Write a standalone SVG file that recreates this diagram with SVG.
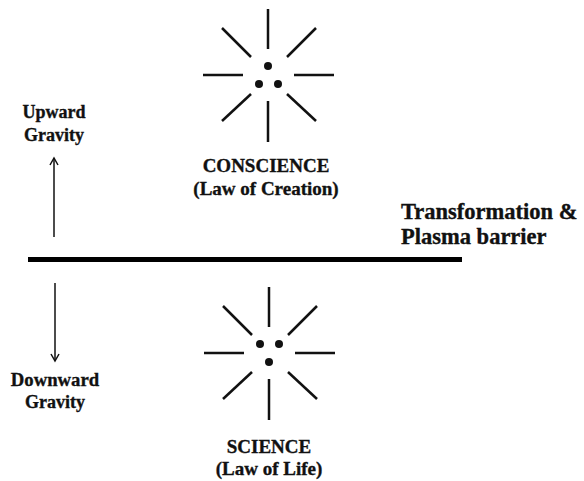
<svg xmlns="http://www.w3.org/2000/svg" width="584" height="481" viewBox="0 0 584 481">
<style>
text{font-family:"Liberation Serif","Times New Roman",serif;font-weight:bold;fill:#111;stroke:#111;stroke-width:0.35;}
.lbl{font-size:19px;text-anchor:middle;}
.g{font-size:18px;text-anchor:middle;}
.t{font-size:22.5px;}
.ray{stroke:#111;stroke-width:2.5;stroke-linecap:butt;}
.dot{fill:#111;}
.arr{stroke:#111;stroke-width:1.5;fill:none;}
</style>
<defs>
<g id="rays">
<line class="ray" x1="0" y1="-66" x2="0" y2="-26"/>
<line class="ray" x1="0" y1="26" x2="0" y2="67"/>
<line class="ray" x1="-65" y1="0" x2="-25" y2="0"/>
<line class="ray" x1="26" y1="0" x2="66" y2="0"/>
<line class="ray" x1="-46" y1="-47" x2="-17" y2="-18"/>
<line class="ray" x1="48" y1="-47" x2="19" y2="-18"/>
<line class="ray" x1="-17" y1="19" x2="-46" y2="46"/>
<line class="ray" x1="19" y1="19" x2="48" y2="46"/>
</g>
</defs>
<g id="conscience">
<use href="#rays" transform="translate(268,75)"/>
<circle class="dot" cx="268" cy="66" r="4"/>
<circle class="dot" cx="259" cy="84" r="4"/>
<circle class="dot" cx="278" cy="84" r="4"/>
<text class="lbl" x="266" y="172">CONSCIENCE</text>
<text class="lbl" x="266" y="195">(Law of Creation)</text>
</g>
<g id="science">
<use href="#rays" transform="translate(269,353)"/>
<circle class="dot" cx="260" cy="344" r="4"/>
<circle class="dot" cx="279" cy="344" r="4"/>
<circle class="dot" cx="269" cy="362" r="4"/>
<text class="lbl" x="269" y="453">SCIENCE</text>
<text class="lbl" x="269" y="475">(Law of Life)</text>
</g>
<g id="barrier">
<line x1="28" y1="259.5" x2="462" y2="259.5" stroke="#000" stroke-width="5"/>
<text class="t" x="401" y="219">Transformation &amp;</text>
<text class="t" x="401" y="244">Plasma barrier</text>
</g>
<g id="upward">
<text class="g" x="54" y="118">Upward</text>
<text class="g" x="54" y="141">Gravity</text>
</g>
<g id="downward">
<text class="g" x="55" y="386" style="font-size:18.7px">Downward</text>
<text class="g" x="55" y="408">Gravity</text>
</g>
<g id="connectors">
<line class="arr" x1="54" y1="237" x2="54" y2="158"/>
<polyline class="arr" points="50,165 54,158 58,165"/>
<line class="arr" x1="55" y1="283" x2="55" y2="361"/>
<polyline class="arr" points="51,354 55,361 59,354"/>
</g>
</svg>
